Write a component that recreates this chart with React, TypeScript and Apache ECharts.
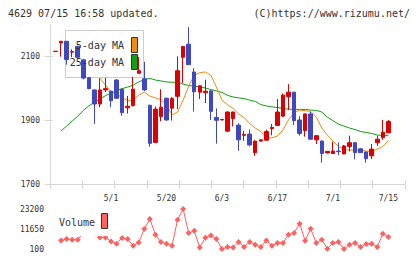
import { useEffect, useRef } from 'react';
import * as echarts from 'echarts';

// Trading days (index 0 is the left edge of the axis, last three slots are empty space)
const dates = [
  '4/15', '4/16', '4/17', '4/20', '4/21', '4/22', '4/23', '4/24', '4/27', '4/28', '4/30',
  '5/1', '5/7', '5/8', '5/11', '5/12', '5/13', '5/14', '5/15', '5/18', '5/19',
  '5/20', '5/21', '5/22', '5/25', '5/26', '5/27', '5/28', '5/29', '6/1', '6/2',
  '6/3', '6/4', '6/5', '6/8', '6/9', '6/10', '6/11', '6/12', '6/15', '6/16',
  '6/17', '6/18', '6/19', '6/22', '6/23', '6/24', '6/25', '6/26', '6/29', '6/30',
  '7/1', '7/2', '7/3', '7/6', '7/7', '7/8', '7/9', '7/10', '7/13', '7/14',
  '7/15', '', '', '',
];
const labelIndexes = [11, 21, 31, 41, 51, 61];

const opens = [
  null, 2114, 2141, 2146, 2112, 2130, 2088, 2032, 1994, 1950,
  1994, 1990, 2025, 1996, 1938, 1945, 2046, 2029, 1946, 1830,
  1911, 1968, 1937, 1974, 2096, 2137, 2050, 1987, 1985, 1991,
  1908, 1900, 1865, 1904, 1884, 1852, 1856, 1798, 1834, 1837,
  1873, 1883, 1912, 1973, 1987, 1900, 1867, 1919, 1838, 1834,
  1797, 1795, 1803, 1794, 1817, 1829, 1810, 1800, 1788, 1829,
  1845, 1860,
];
const closes = [
  null, 2115, 2146, 2089, 2114, 2096, 2031, 1998, 1950, 1994,
  1998, 1960, 1968, 1923, 1943, 1996, 2054, 1994, 1827, 1934,
  1940, 1900, 1967, 2054, 2130, 2073, 1988, 2007, 1990, 1927,
  1899, 1902, 1925, 1925, 1838, 1855, 1822, 1834, 1838, 1864,
  1877, 1925, 1978, 1987, 1898, 1858, 1919, 1840, 1851, 1795,
  1802, 1803, 1801, 1819, 1829, 1798, 1798, 1779, 1809, 1840,
  1862, 1895,
];
const lows = [
  null, 2114, 2098, 2073, 2096, 2094, 2027, 1996, 1888, 1940,
  1987, 1940, 1965, 1913, 1920, 1942, 2045, 1990, 1817, 1828,
  1896, 1898, 1898, 1934, 2016, 2072, 1926, 1966, 1953, 1900,
  1826, 1900, 1863, 1880, 1804, 1835, 1818, 1788, 1833, 1835,
  1852, 1882, 1910, 1931, 1884, 1851, 1848, 1838, 1825, 1767,
  1796, 1794, 1790, 1793, 1802, 1777, 1797, 1767, 1778, 1819,
  1838, 1858,
];
const highs = [
  null, 2115, 2147, 2147, 2121, 2132, 2090, 2034, 1995, 2030,
  2032, 1992, 2028, 1998, 1975, 2035, 2097, 2082, 1948, 1942,
  1996, 1970, 1972, 2099, 2131, 2190, 2062, 2009, 2026, 1993,
  1936, 1902, 1927, 1926, 1890, 1866, 1870, 1836, 1839, 1870,
  1888, 1966, 1983, 2012, 1988, 1912, 1920, 1926, 1852, 1836,
  1803, 1832, 1830, 1822, 1851, 1830, 1812, 1801, 1825, 1851,
  1900, 1900,
];

const ma5 = [
  null, null, null, null, null, null, null, null, 2040, 2031,
  2009, 1988, 1983, 1969, 1961, 1962, 1978, 1987, 1975, 1969,
  1964, 1947, 1916, 1925, 1962, 2006, 2040, 2048, 2050, 2040,
  2003, 1962, 1948, 1936, 1919, 1908, 1889, 1875, 1864, 1847,
  1844, 1850, 1869, 1900, 1923, 1931, 1929, 1927, 1909, 1875,
  1853, 1834, 1817, 1808, 1806, 1806, 1806, 1803, 1801, 1809,
  1817, 1836,
];
const ma25 = [
  null, null, 1866, 1881, 1897, 1912, 1930, 1944, 1956, 1966,
  1976, 1984, 1992, 1998, 2003, 2009, 2019, 2026, 2030, 2025,
  2022, 2019, 2018, 2018, 2012, 2008, 2005, 2004, 2000, 1995,
  1991, 1986, 1977, 1972, 1969, 1967, 1962, 1958, 1948, 1944,
  1941, 1939, 1936, 1934, 1933, 1933, 1933, 1931, 1930, 1925,
  1909, 1898, 1887, 1881, 1875, 1870, 1864, 1861, 1858, 1853,
  1852, 1852,
];
const volumes = [
  null, null, 5070, 5880, 5470, 5470, 9500, 11000, 9000, 6800,
  6800, 4490, 3160, 6450, 5880, 2000, 3910, 11650, 17430, 8360,
  4140, 3160, 2000, 17020, 23200, 9340, 10670, 1020, 6600, 7950,
  5880, 100, 1250, 1020, 4140, 1250, 4140, 2580, 1250, 5070,
  2000, 3560, 3560, 8360, 9340, 14710, 4890, 11820, 3560, 5470,
  270, 3560, 4140, 100, 2580, 3560, 1250, 2990, 3160, 1250,
  8940, 7030,
];

const priceTicks = [1700, 1900, 2100];
const volumeTicks = [100, 11650, 23200];

const RED = '#dd0000';
const BLUE = '#4048c0';
const ORANGE = '#f08c10';
const GREEN = '#10a010';
const PINK = '#ff6060';
const AXIS = '#d6d6d6';
const MONO = '"DejaVu Sans Mono", monospace';

export default function App() {
  const ref = useRef<HTMLDivElement>(null);

  useEffect(() => {
    document.body.style.margin = '0';
    if (!ref.current) return;
    const chart = echarts.init(ref.current, undefined, { renderer: 'svg' });

    const candles = opens
      .map((o, i) => (o == null ? null : [i, o, closes[i], lows[i], highs[i]]))
      .filter((d) => d !== null);

    const label = (extra: object) => ({
      fontFamily: MONO,
      fontSize: 8,
      color: '#333',
      ...extra,
    });
    const plain = (v: number) => String(v);

    const text = (t: string, x: number, y: number, align: string, z: number) => ({
      type: 'text',
      x,
      y,
      z,
      style: {
        text: t,
        font: `10px ${MONO}`,
        fill: '#333',
        align,
        textAlign: align,
        verticalAlign: 'middle',
        textVerticalAlign: 'middle',
      },
    });

    chart.setOption({
      animation: false,
      backgroundColor: '#fff',
      grid: [
        { left: 50, top: 24, width: 355, height: 160 },
        { left: 50, top: 209, width: 355, height: 40 },
      ],
      xAxis: [
        {
          type: 'category',
          gridIndex: 0,
          data: dates,
          boundaryGap: false,
          axisLine: { lineStyle: { color: AXIS } },
          axisTick: { show: false },
          axisLabel: label({
            interval: (i: number) => labelIndexes.includes(i),
            margin: 10,
          }),
          splitLine: { show: false },
        },
        {
          type: 'value',
          gridIndex: 0,
          position: 'bottom',
          offset: -4,
          min: 0,
          max: 11,
          interval: 1,
          axisLine: { show: false },
          axisTick: { show: true, length: 9, lineStyle: { color: AXIS } },
          axisLabel: { show: false },
          splitLine: { show: false },
        },
        {
          type: 'category',
          gridIndex: 1,
          data: dates,
          boundaryGap: false,
          show: false,
        },
      ],
      yAxis: [
        {
          type: 'value',
          gridIndex: 0,
          min: 1700,
          max: 2200,
          axisLine: { show: true, lineStyle: { color: AXIS } },
          axisTick: { show: false },
          axisLabel: label({ customValues: priceTicks, margin: 10, formatter: plain }),
          splitLine: { show: false },
        },
        {
          type: 'value',
          gridIndex: 0,
          position: 'left',
          offset: -3,
          min: 1700,
          max: 2200,
          axisLine: { show: false },
          axisTick: {
            show: true,
            length: 8,
            customValues: priceTicks,
            lineStyle: { color: AXIS },
          },
          axisLabel: { show: false },
          splitLine: { show: false },
        },
        {
          type: 'value',
          gridIndex: 1,
          min: 100,
          max: 23200,
          axisLine: { show: false },
          axisTick: { show: false },
          axisLabel: label({ customValues: volumeTicks, margin: 6, formatter: plain }),
          splitLine: { show: false },
        },
      ],
      series: [
        {
          name: '25-day MA',
          type: 'line',
          xAxisIndex: 0,
          yAxisIndex: 0,
          data: ma25,
          showSymbol: false,
          lineStyle: { color: GREEN, width: 1 },
          z: 1,
        },
        {
          name: '5-day MA',
          type: 'line',
          xAxisIndex: 0,
          yAxisIndex: 0,
          data: ma5,
          showSymbol: false,
          lineStyle: { color: ORANGE, width: 1 },
          z: 1,
        },
        {
          name: 'Price',
          type: 'candlestick',
          xAxisIndex: 0,
          yAxisIndex: 0,
          data: candles,
          encode: { x: 0, y: [1, 2, 3, 4] },
          barWidth: 4,
          itemStyle: {
            color: RED,
            color0: BLUE,
            borderColor: RED,
            borderColor0: BLUE,
            borderWidth: 1,
          },
          z: 3,
        },
        {
          name: 'Volume',
          type: 'line',
          xAxisIndex: 2,
          yAxisIndex: 2,
          data: volumes,
          symbol: 'diamond',
          symbolSize: 6,
          showSymbol: true,
          showAllSymbol: true,
          itemStyle: { color: PINK },
          lineStyle: { color: PINK, width: 1 },
          z: 2,
        },
      ],
      graphic: {
        elements: [
          text('4629 07/15 16:58 updated.', 8, 13, 'left', 10),
          text('(C)https://www.rizumu.net/', 410, 13, 'right', 10),
          {
            type: 'rect',
            z: 2,
            shape: { x: 65.5, y: 30.5, width: 78, height: 47 },
            style: { fill: '#fff', stroke: '#cccccc', lineWidth: 1 },
          },
          text('5-day MA', 124, 45.5, 'right', 4),
          text('25-day MA', 124, 62, 'right', 4),
          {
            type: 'rect',
            z: 4,
            shape: { x: 131.5, y: 37.5, width: 6, height: 15 },
            style: { fill: ORANGE, stroke: '#333', lineWidth: 1 },
          },
          {
            type: 'rect',
            z: 4,
            shape: { x: 131.5, y: 54.5, width: 6, height: 15 },
            style: { fill: GREEN, stroke: '#333', lineWidth: 1 },
          },
          {
            type: 'rect',
            z: 5,
            shape: { x: 53, y: 210, width: 60, height: 26 },
            style: { fill: '#fff' },
          },
          text('Volume', 59, 222.5, 'left', 6),
          {
            type: 'rect',
            z: 6,
            shape: { x: 101.5, y: 213.5, width: 6, height: 15 },
            style: { fill: PINK, stroke: '#333', lineWidth: 1 },
          },
        ],
      },
    });

    return () => chart.dispose();
  }, []);

  return <div ref={ref} style={{ width: 420, height: 259 }} />;
}
